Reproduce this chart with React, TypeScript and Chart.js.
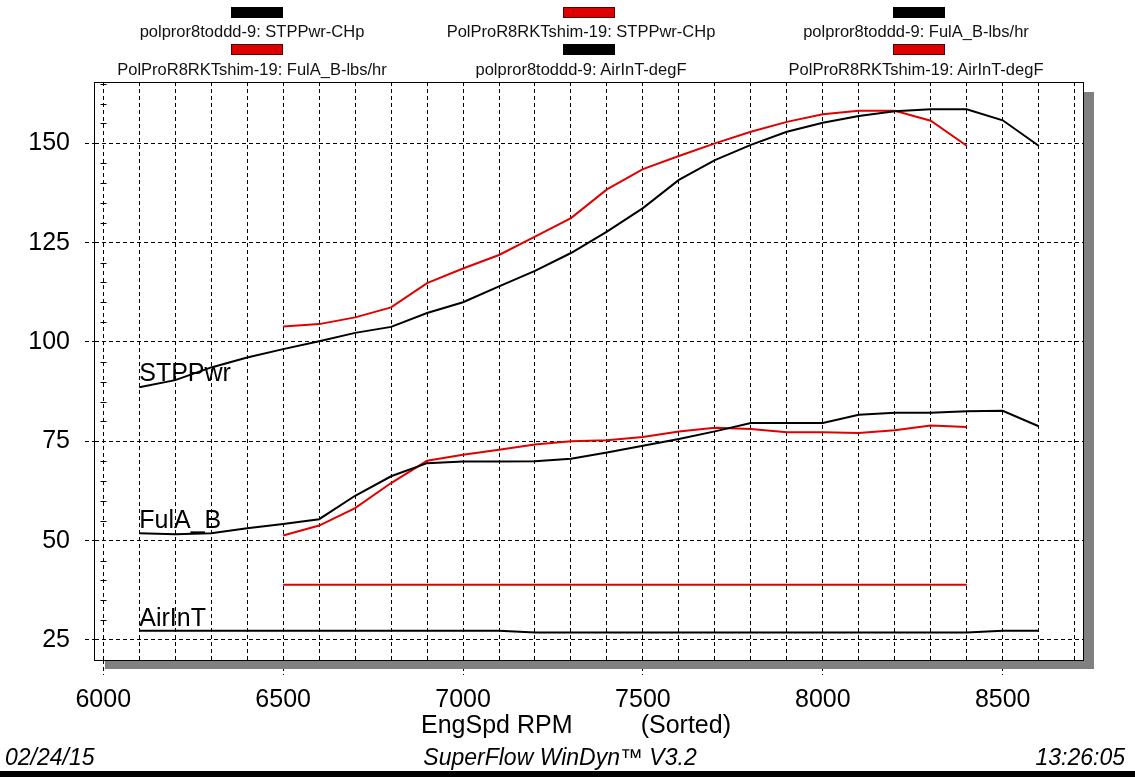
import React, { useEffect, useRef } from "react";
import { Chart, registerables } from "chart.js";

Chart.register(...registerables);

// ---------- data ----------
const rpmBlack = [6100, 6200, 6300, 6400, 6500, 6600, 6700, 6800, 6900, 7000, 7100, 7200, 7300, 7400, 7500, 7600, 7700, 7800, 7900, 8000, 8100, 8200, 8300, 8400, 8500, 8600];
const rpmRed = [6500, 6600, 6700, 6800, 6900, 7000, 7100, 7200, 7300, 7400, 7500, 7600, 7700, 7800, 7900, 8000, 8100, 8200, 8300, 8400];

const pwrBlack = [88.6, 90.4, 93.6, 96.1, 98.2, 100.2, 102.3, 103.8, 107.3, 110.0, 114.0, 117.9, 122.4, 127.8, 133.7, 140.8, 145.8, 149.6, 152.9, 155.2, 156.9, 158.1, 158.6, 158.6, 155.8, 149.4];
const pwrRed = [103.9, 104.5, 106.2, 108.7, 114.8, 118.5, 121.9, 126.5, 131.2, 138.4, 143.5, 146.8, 150.0, 152.9, 155.4, 157.3, 158.2, 158.2, 155.7, 149.4];

const fuelBlack = [51.85, 51.6, 51.85, 53.1, 54.2, 55.4, 61.3, 66.2, 69.5, 69.9, 69.9, 70.0, 70.6, 72.2, 73.9, 75.6, 77.5, 79.6, 79.6, 79.6, 81.7, 82.2, 82.2, 82.6, 82.7, 78.8];
const fuelRed = [51.3, 53.8, 58.2, 64.5, 70.1, 71.6, 72.9, 74.2, 75.0, 75.3, 76.1, 77.5, 78.4, 78.1, 77.3, 77.3, 77.1, 77.8, 79.0, 78.6];

const airBlack = [27.3, 27.3, 27.3, 27.3, 27.3, 27.3, 27.3, 27.3, 27.3, 27.3, 27.3, 26.9, 26.9, 26.9, 26.9, 26.9, 26.9, 26.9, 26.9, 26.9, 26.9, 26.9, 26.9, 26.9, 27.3, 27.3];
const airRed = [38.9, 38.9, 38.9, 38.9, 38.9, 38.9, 38.9, 38.9, 38.9, 38.9, 38.9, 38.9, 38.9, 38.9, 38.9, 38.9, 38.9, 38.9, 38.9, 38.9];

const xMajorTicks = [6000, 6500, 7000, 7500, 8000, 8500];
const xGridStep = 100;
const xGridFirst = 6000;
const xGridLast = 8700;
const yTicks = [25, 50, 75, 100, 125, 150];
const yMinorStep = 5;

const seriesLabels = ["STPPwr", "FulA_B", "AirInT"];
const seriesLabelRpm = 6100;
const seriesLabelValue = [90.2, 53.3, 28.5];

const legendItems = [
  { text: "polpror8toddd-9: STPPwr-CHp", color: "black" },
  { text: "PolProR8RKTshim-19: STPPwr-CHp", color: "red" },
  { text: "polpror8toddd-9: FulA_B-lbs/hr", color: "black" },
  { text: "PolProR8RKTshim-19: FulA_B-lbs/hr", color: "red" },
  { text: "polpror8toddd-9: AirInT-degF", color: "black" },
  { text: "PolProR8RKTshim-19: AirInT-degF", color: "red" },
];

const xTitleMain = "EngSpd RPM";
const xTitleNote = "(Sorted)";
const footerLeft = "02/24/15";
const footerCenter = "SuperFlow WinDyn\u2122 V3.2";
const footerRight = "13:26:05";

const BLACK = "#000000";
const RED = "#e00000";
const FONT = "'Liberation Sans', Arial, Helvetica, sans-serif";

const W = 1135;
const H = 777;

const decorPlugin = {
  id: "decor",
  afterDraw(chart: any) {
    const { ctx, chartArea, scales } = chart;
    const { left, top, right, bottom } = chartArea;
    ctx.save();
    // shadow
    ctx.fillStyle = "#808080";
    ctx.fillRect(left + 10, bottom, right - left, 9);
    ctx.fillRect(right, top + 10, 10, bottom - top - 1);
    // box
    ctx.strokeStyle = "#000";
    ctx.lineWidth = 1;
    ctx.setLineDash([]);
    ctx.strokeRect(Math.round(left) - 0.5, Math.round(top) + 0.5, Math.round(right - left), Math.round(bottom - top));
    // minor y ticks
    const yS = scales.y;
    const xS = scales.x;
    const ax = Math.round(xS.getPixelForValue(xGridFirst)) + 0.5;
    for (let v = Math.ceil(yS.min / yMinorStep) * yMinorStep; v <= yS.max; v += yMinorStep) {
      if (v % 25 === 0) continue;
      const py = Math.round(yS.getPixelForValue(v)) + 0.5;
      ctx.beginPath();
      ctx.moveTo(ax - 3, py);
      ctx.lineTo(ax + 3, py);
      ctx.stroke();
    }
    // series labels
    ctx.fillStyle = "#000";
    ctx.font = `25px ${FONT}`;
    ctx.textBaseline = "alphabetic";
    ctx.textAlign = "left";
    seriesLabels.forEach((t, i) => {
      const px = xS.getPixelForValue(seriesLabelRpm);
      const py = yS.getPixelForValue(seriesLabelValue[i]);
      ctx.fillText(t, px, py);
    });
    ctx.restore();
  },
};

function mk(xs: number[], ys: number[]) {
  return xs.map((x, i) => ({ x, y: ys[i] }));
}

export default function App() {
  const ref = useRef<HTMLCanvasElement | null>(null);

  useEffect(() => {
    if (!ref.current) return;
    const line = (data: any, color: string) => ({
      data,
      borderColor: color,
      backgroundColor: color,
      borderWidth: 2,
      pointRadius: 0,
      tension: 0,
      fill: false,
    });
    const chart = new Chart(ref.current, {
      type: "line",
      data: {
        datasets: [
          line(mk(rpmBlack, airBlack), BLACK),
          line(mk(rpmRed, airRed), RED),
          line(mk(rpmBlack, fuelBlack), BLACK),
          line(mk(rpmRed, fuelRed), RED),
          line(mk(rpmBlack, pwrBlack), BLACK),
          line(mk(rpmRed, pwrRed), RED),
        ],
      },
      options: {
        responsive: false,
        animation: false,
        events: [],
        layout: { padding: { left: 0, top: 82, right: 51, bottom: 57 } },
        plugins: { legend: { display: false }, tooltip: { enabled: false }, title: { display: false } },
        scales: {
          x: {
            type: "linear",
            min: 5977,
            max: 8726,
            afterBuildTicks: (s: any) => {
              const t = [];
              for (let v = xGridFirst; v <= xGridLast; v += xGridStep) t.push({ value: v });
              s.ticks = t;
            },
            afterFit: (s: any) => {
              s.height = 60;
            },
            grid: {
              color: "#000",
              lineWidth: 1,
              drawTicks: true,
              tickLength: 15,
              tickColor: (c: any) => (c.tick && xMajorTicks.includes(c.tick.value) ? "#000" : "rgba(0,0,0,0)"),
              tickBorderDash: [4, 3],
            },
            border: { display: false, dash: [4, 3] },
            ticks: {
              autoSkip: false,
              maxRotation: 0,
              minRotation: 0,
              padding: 10,
              color: "#000",
              font: { family: FONT, size: 25 },
              callback: (v: any) => (xMajorTicks.includes(Number(v)) ? String(v) : ""),
            },
          },
          y: {
            type: "linear",
            min: 19.96,
            max: 165.44,
            afterBuildTicks: (s: any) => {
              s.ticks = yTicks.map((v) => ({ value: v }));
            },
            afterFit: (s: any) => {
              s.width = 95;
            },
            grid: {
              color: "#000",
              lineWidth: 1,
              drawTicks: true,
              tickLength: 10,
              tickColor: "#000",
              tickBorderDash: [4, 3],
            },
            border: { display: false, dash: [4, 3] },
            ticks: {
              padding: 15,
              color: "#000",
              font: { family: FONT, size: 25 },
              callback: (v: any) => String(v),
            },
          },
        },
      },
      plugins: [decorPlugin],
    } as any);
    return () => chart.destroy();
  }, []);

  const barCenters = [257, 589, 919];
  const textCenters = [252, 581, 916];
  const barTops = [7, 44];
  const textMids = [31, 69];

  return (
    <div style={{ position: "absolute", left: 0, top: 0, width: W, height: H, background: "#fff", overflow: "hidden", fontFamily: FONT }}>
      <canvas ref={ref} width={W} height={H} style={{ position: "absolute", left: 0, top: 0, width: W, height: H }} />
      {legendItems.map((it, i) => {
        const col = i % 3;
        const r = Math.floor(i / 3);
        return (
          <React.Fragment key={i}>
            <div
              style={{
                position: "absolute",
                left: barCenters[col] - 26,
                top: barTops[r],
                width: 52,
                height: 11,
                boxSizing: "border-box",
                background: it.color === "red" ? "#dd0000" : "#000",
                border: it.color === "red" ? "1px solid #550000" : "1px solid #000",
              }}
            />
            <div
              style={{
                position: "absolute",
                left: textCenters[col],
                top: textMids[r] - 10,
                transform: "translateX(-50%)",
                whiteSpace: "nowrap",
                fontSize: 16.5,
                lineHeight: "20px",
                color: "#111",
              }}
            >
              {it.text}
            </div>
          </React.Fragment>
        );
      })}
      <div style={{ position: "absolute", left: 421, top: 710, whiteSpace: "pre", fontSize: 25, lineHeight: "28px", color: "#000" }}>
        {xTitleMain}
      </div>
      <div style={{ position: "absolute", right: W - 731, top: 710, whiteSpace: "pre", fontSize: 25, lineHeight: "28px", color: "#000" }}>
        {xTitleNote}
      </div>
      <div style={{ position: "absolute", left: 5, top: 743, whiteSpace: "pre", fontSize: 23, lineHeight: "28px", fontStyle: "italic", color: "#000" }}>
        {footerLeft}
      </div>
      <div style={{ position: "absolute", left: 560, top: 743, transform: "translateX(-50%)", whiteSpace: "pre", fontSize: 23, lineHeight: "28px", fontStyle: "italic", color: "#000" }}>
        {footerCenter}
      </div>
      <div style={{ position: "absolute", right: W - 1125, top: 743, whiteSpace: "pre", fontSize: 23, lineHeight: "28px", fontStyle: "italic", color: "#000" }}>
        {footerRight}
      </div>
      <div style={{ position: "absolute", left: 0, top: 771, width: W, height: 6, background: "#000" }} />
    </div>
  );
}
